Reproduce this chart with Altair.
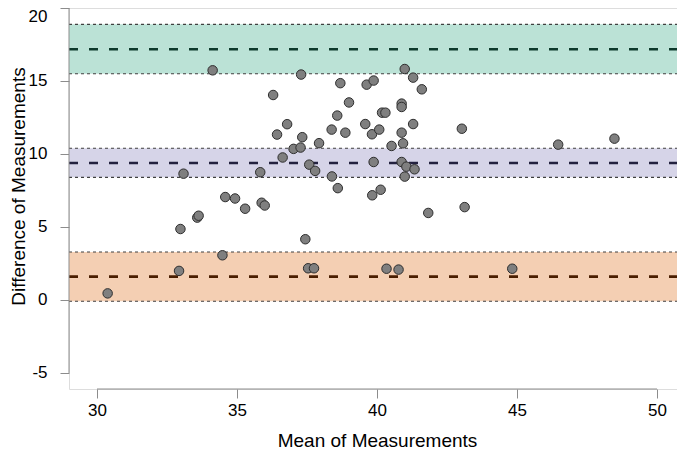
import altair as alt
import pandas as pd

# ---- data ----
mean_vals = [30.38, 32.93, 32.98, 33.09, 33.58, 33.63, 34.13, 34.48, 34.58, 34.93,
             35.29, 35.83, 35.88, 35.99, 36.29, 36.43, 36.63, 36.79, 37.02, 37.27,
             37.29, 37.33, 37.44, 37.54, 37.58, 37.75, 37.79, 37.93, 38.38, 38.39,
             38.58, 38.60, 38.69, 38.87, 39.00, 39.58, 39.63, 39.82, 39.83, 39.88,
             39.88, 40.08, 40.13, 40.18, 40.30, 40.34, 40.52, 40.77, 40.88, 40.88,
             40.88, 40.88, 40.93, 40.99, 40.99, 41.05, 41.29, 41.29, 41.34, 41.60,
             41.83, 43.03, 43.13, 44.83, 46.47, 48.48]
diff_vals = [0.45, 1.99, 4.86, 8.65, 5.64, 5.77, 15.73, 3.06, 7.05, 6.95,
             6.25, 8.75, 6.66, 6.47, 14.04, 11.33, 9.76, 12.04, 10.35, 10.44,
             15.44, 11.15, 4.16, 2.17, 9.27, 2.17, 8.84, 10.74, 11.67, 8.46,
             12.63, 7.66, 14.85, 11.46, 13.53, 12.05, 14.75, 11.35, 7.17, 15.03,
             9.45, 11.67, 7.55, 12.83, 12.83, 2.14, 10.55, 2.08, 13.45, 13.22,
             11.46, 9.45, 10.73, 15.82, 8.45, 9.13, 15.23, 12.05, 8.95, 14.43,
             5.96, 11.73, 6.36, 2.14, 10.64, 11.05]

band_names = ["upper", "mean", "lower"]
band_low = [15.50, 8.40, -0.09]
band_high = [18.88, 10.39, 3.29]
band_line = [17.17, 9.38, 1.60]
band_fill = ["#BBE2D6", "#D6D4E8", "#F4CFB3"]
band_stroke = ["#0E3A2C", "#23213F", "#4A1E00"]

x_ticks = [30, 35, 40, 45, 50]
y_ticks = [-5, 0, 5, 10, 15, 20]

XMIN, XMAX = 29, 50.714
YMIN, YMAX = -6.1, 20

FONT = "Liberation Sans"
AXIS_GRAY = "#8C8C8C"

pts = pd.DataFrame({"mean": mean_vals, "diff": diff_vals})
bands = pd.DataFrame({"name": band_names, "lo": band_low, "hi": band_high,
                      "mid": band_line, "fill": band_fill, "stroke": band_stroke})
edges = pd.DataFrame({"y": band_low + band_high})
xaxis_df = pd.DataFrame({"x": [x_ticks[0]], "x2": [x_ticks[-1]], "y": [YMIN]})
yaxis_df = pd.DataFrame({"y": [y_ticks[0]], "y2": [y_ticks[-1]], "x": [XMIN]})

xscale = alt.Scale(domain=[XMIN, XMAX], nice=False, zero=False)
yscale = alt.Scale(domain=[YMIN, YMAX], nice=False, zero=False)

rects = alt.Chart(bands).mark_rect(opacity=1).encode(
    x=alt.datum(XMIN, scale=xscale),
    x2=alt.datum(XMAX),
    y=alt.Y("lo:Q", scale=yscale),
    y2="hi:Q",
    color=alt.Color("fill:N", scale=None),
)

edge_lines = alt.Chart(edges).mark_rule(
    color="#404040", strokeWidth=1.1, strokeDash=[3, 3]
).encode(
    x=alt.datum(XMIN), x2=alt.datum(XMAX), y="y:Q"
)

mid_lines = alt.Chart(bands).mark_rule(strokeWidth=2.6, strokeDash=[9, 11]).encode(
    x=alt.datum(XMIN), x2=alt.datum(XMAX), y="mid:Q",
    color=alt.Color("stroke:N", scale=None),
)

points = alt.Chart(pts).mark_point(
    shape="circle", filled=True, fill="#7F7F7F", stroke="#2E2E2E",
    strokeWidth=1, size=90, opacity=1
).encode(
    x=alt.X("mean:Q", scale=xscale,
            axis=alt.Axis(values=x_ticks, domain=False, grid=False, tickSize=9,
                          tickColor=AXIS_GRAY, tickWidth=1, labelPadding=4,
                          labelFontSize=17, labelFont=FONT, labelColor="#000",
                          labelExpr="datum.value",
                          title="Mean of Measurements", titleFont=FONT,
                          titleFontSize=19, titleFontWeight="normal",
                          titleColor="#000", titleX=308, titleY=51,
                          titleBaseline="middle")),
    y=alt.Y("diff:Q", scale=yscale,
            axis=alt.Axis(values=y_ticks, domain=False, grid=False, tickSize=9,
                          tickColor=AXIS_GRAY, tickWidth=1, labelPadding=13,
                          labelFontSize=17, labelFont=FONT, labelColor="#000",
                          labelAngle=0, labelExpr="datum.value",
                          labelFlush=True, labelFlushOffset=0,
                          title="Difference of Measurements", titleFont=FONT,
                          titleFontSize=19, titleFontWeight="normal",
                          titleColor="#000", titleX=-51, titleY=178,
                          titleBaseline="middle", titleAngle=270)),
)

xaxis_line = alt.Chart(xaxis_df).mark_rule(color=AXIS_GRAY, strokeWidth=1).encode(
    x="x:Q", x2="x2:Q", y="y:Q"
)
yaxis_line = alt.Chart(yaxis_df).mark_rule(color=AXIS_GRAY, strokeWidth=1).encode(
    y="y:Q", y2="y2:Q", x="x:Q"
)

chart = alt.layer(rects, edge_lines, mid_lines, xaxis_line, yaxis_line, points).properties(
    width=608, height=381,
    autosize=alt.AutoSizeParams(type="none"),
    padding={"left": 61, "top": 0, "right": 0, "bottom": 60},
).configure_view(stroke=None).configure(background="white")

chart.save("out.html", embed_options={"renderer": "svg", "actions": False})
